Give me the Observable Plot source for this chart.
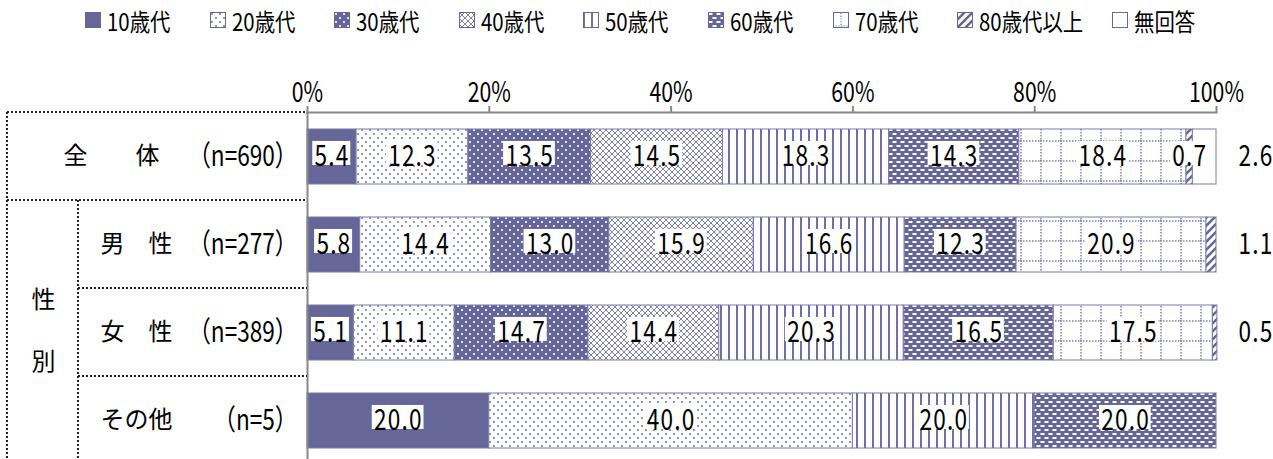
<!DOCTYPE html>
<html><head><meta charset="utf-8">
<script src="https://cdn.jsdelivr.net/npm/d3@7"></script>
<script src="https://cdn.jsdelivr.net/npm/@observablehq/plot@0.6"></script>
<style>
body{margin:0;background:#fff;font-family:"Noto Sans CJK JP",sans-serif;}
#legend{height:40px;display:flex;align-items:center;padding-left:85px;box-sizing:border-box;font-size:24px;color:#000;}
.item{display:flex;align-items:center;flex:none;white-space:nowrap;}
.item svg{margin-right:6px;flex:none;}
.item span{display:inline-block;transform:scaleX(0.85);transform-origin:left center;}
</style></head><body>
<svg width="0" height="0" style="position:absolute">
<defs>
<pattern id="p10" width="8" height="8" patternUnits="userSpaceOnUse"><rect width="8" height="8" fill="#666699"/></pattern>
<pattern id="p20" width="8" height="8" patternUnits="userSpaceOnUse"><rect width="8" height="8" fill="#fff"/><circle cx="2" cy="2" r="1.1" fill="#7b7bad"/><circle cx="6" cy="6" r="1.1" fill="#7b7bad"/></pattern>
<pattern id="p30" width="8" height="8" patternUnits="userSpaceOnUse"><rect width="8" height="8" fill="#666699"/><circle cx="2" cy="2" r="1.1" fill="#fff"/><circle cx="6" cy="6" r="1.1" fill="#fff"/></pattern>
<pattern id="p40" width="6" height="6" patternUnits="userSpaceOnUse"><rect width="6" height="6" fill="#fff"/><path d="M0,0L6,6M6,0L0,6" stroke="#8080b0" stroke-width="1"/></pattern>
<pattern id="p50" width="8" height="8" patternUnits="userSpaceOnUse"><rect width="8" height="8" fill="#fff"/><rect x="0" width="2" height="8" fill="#7070a3"/></pattern>
<pattern id="p60" width="8" height="8" patternUnits="userSpaceOnUse"><rect width="8" height="8" fill="#666699"/><rect x="0.5" y="1" width="4" height="2" fill="#fff"/><rect x="4.5" y="5" width="4" height="2" fill="#fff"/><rect x="0" y="5" width="0.5" height="2" fill="#fff"/></pattern>
<pattern id="p70" width="20" height="20" patternUnits="userSpaceOnUse"><rect width="20" height="20" fill="#fff"/><line x1="0" y1="1" x2="20" y2="1" stroke="#8080b0" stroke-width="1.5" stroke-dasharray="1.5 1.5"/><line x1="1" y1="0" x2="1" y2="20" stroke="#8080b0" stroke-width="1.5" stroke-dasharray="1.5 1.5"/></pattern>
<pattern id="p70s" width="16" height="16" patternUnits="userSpaceOnUse"><rect width="16" height="16" fill="#fff"/><line x1="8" y1="1" x2="8" y2="16" stroke="#8080b0" stroke-width="1.2" stroke-dasharray="1.2 1.5"/><line x1="0" y1="14" x2="16" y2="14" stroke="#8080b0" stroke-width="1.2" stroke-dasharray="1.2 1.5"/></pattern>
<pattern id="p80" width="8" height="8" patternUnits="userSpaceOnUse"><rect width="8" height="8" fill="#fff"/><path d="M-2,2L2,-2M0,8L8,0M6,10L10,6" stroke="#666699" stroke-width="2.5"/></pattern>
<pattern id="pNA" width="8" height="8" patternUnits="userSpaceOnUse"><rect width="8" height="8" fill="#fff"/></pattern>
</defs>
</svg>
<div id="legend"></div>
<div id="chart"></div>
<script>
// ---- data ----
const groups = ["全体", "男性", "女性", "その他"];
const groupNames = ["全　　体", "男　性", "女　性", "その他"];
const groupN = ["（n=690）", "（n=277）", "（n=389）", "（n=5）"];
const series = ["10歳代", "20歳代", "30歳代", "40歳代", "50歳代", "60歳代", "70歳代", "80歳代以上", "無回答"];
const patternIds = ["p10", "p20", "p30", "p40", "p50", "p60", "p70", "p80", "pNA"];
const legendPatternIds = ["p10", "p20", "p30", "p40", "p50", "p60", "p70s", "p80", "pNA"];
const valuesTotal  = [5.4, 12.3, 13.5, 14.5, 18.3, 14.3, 18.4, 0.7, 2.6];
const valuesMale   = [5.8, 14.4, 13.0, 15.9, 16.6, 12.3, 20.9, 1.1, 0];
const valuesFemale = [5.1, 11.1, 14.7, 14.4, 20.3, 16.5, 17.5, 0.5, 0];
const valuesOther  = [20.0, 40.0, 0, 0, 20.0, 20.0, 0, 0, 0];
const xTicks = [0, 20, 40, 60, 80, 100];

const allValues = [valuesTotal, valuesMale, valuesFemale, valuesOther];
const rows = [];
groups.forEach((g, gi) => {
  const vals = allValues[gi];
  let lastIdx = -1;
  vals.forEach((v, i) => { if (v > 0) lastIdx = i; });
  vals.forEach((v, i) => {
    if (v > 0) rows.push({group: g, series: series[i], value: v, label: v.toFixed(1), outside: i === lastIdx && v < 3});
  });
});
const labelRows = groups.map((g, i) => ({group: g, name: groupNames[i], n: groupN[i]}));

// ---- legend ----
const legend = d3.select("#legend");
series.forEach((s, i) => {
  const item = legend.append("div").attr("class", "item").style("width", s === "80歳代以上" ? "155px" : "124.6px");
  const sw = item.append("svg").attr("width", 16).attr("height", 16);
  sw.append("rect").attr("x", 0.5).attr("y", 0.5).attr("width", 15).attr("height", 15)
    .attr("fill", `url(#${legendPatternIds[i]})`).attr("stroke", "#666699").attr("stroke-width", 1);
  item.append("span").text(s);
});

// ---- chart ----
const font = "'Noto Sans CJK JP',sans-serif";
const numSize = 29;
const chart = Plot.plot({
  width: 1273, height: 419,
  marginLeft: 307, marginRight: 57, marginTop: 72, marginBottom: 0,
  style: {fontFamily: font, background: "white", overflow: "visible"},
  x: {domain: [0, 100], axis: null, label: null},
  y: {domain: groups, range: [72, 424], padding: 0, axis: null},
  color: {domain: series, range: patternIds.map(p => `url(#${p})`)},
  marks: [
    Plot.barX(rows, Plot.stackX({x: "value", y: "group", fill: "series", insetTop: 17, insetBottom: 16, stroke: "#7a7aab", strokeWidth: 1})),
    Plot.text(rows, Plot.stackX({x: "value", y: "group", z: "series", text: d => d.outside ? "" : d.label, fontSize: numSize, fill: "black"})),
    Plot.text(rows.filter(d => d.outside), {y: "group", text: "label", frameAnchor: "right", textAnchor: "start", dx: 22, fontSize: numSize, fill: "black"}),
    Plot.axisX({anchor: "top", ticks: xTicks, tickFormat: d => d + "%", label: null, tickSize: 7, tickPadding: 4, stroke: "#888", strokeWidth: 2, fill: "black", fontSize: 28}),
    Plot.frame({anchor: "top", stroke: "#888", strokeWidth: 2}),
    Plot.ruleX([0], {stroke: "#888", strokeWidth: 2}),
    Plot.text(labelRows.slice(0, 1), {y: "group", text: "name", frameAnchor: "left", textAnchor: "start", dx: -244, fontSize: 24, fill: "black"}),
    Plot.text(labelRows.slice(1), {y: "group", text: "name", frameAnchor: "left", textAnchor: "start", dx: -207, fontSize: 24, fill: "black"}),
    Plot.text(labelRows, {y: "group", text: "n", frameAnchor: "left", textAnchor: "end", dx: -10, fontSize: numSize, fill: "black"}),
    Plot.text(["女性"], {y: d => d, text: () => "性\n別", lineHeight: 2.55, frameAnchor: "left", textAnchor: "middle", dx: -264, dy: -13, fontSize: 24, fill: "black"})
  ]
});
document.getElementById("chart").appendChild(chart);

const svg = d3.select(chart);
// horizontally condense numeric text about its anchor point
function condense(g, s, spacing) {
  d3.select(g).selectAll("text").each(function() {
    if (spacing) this.style.letterSpacing = spacing;
    const ax = +this.getAttribute("x") || 0;
    const t = this.getAttribute("transform") || "";
    this.setAttribute("transform", `${t} translate(${ax},0) scale(${s},1) translate(${-ax},0)`);
  });
}
const textGroups = svg.selectAll('g[aria-label="text"]').nodes();
const inGroup = textGroups[0];
condense(inGroup, 0.78, "1.5px");
condense(textGroups[1], 0.78, "1.5px");
condense(textGroups[4], 0.78);
svg.selectAll('g[aria-label="x-axis tick label"]').each(function() { condense(this, 0.76); });

// white boxes behind in-bar labels
d3.select(inGroup).selectAll("text").each(function() {
  const b = this.getBBox();
  if (!b.width) return;
  const cy = b.y + b.height / 2;
  const r = document.createElementNS("http://www.w3.org/2000/svg", "rect");
  r.setAttribute("x", b.x - 3);
  r.setAttribute("y", cy - 12);
  r.setAttribute("width", b.width + 4);
  r.setAttribute("height", 24);
  r.setAttribute("fill", "white");
  const t = this.getAttribute("transform");
  if (t) r.setAttribute("transform", t);
  this.parentNode.insertBefore(r, this);
});

// dotted table lines on the left, positioned from the y scale
const ys = chart.scale("y");
const top0 = ys.apply(groups[0]);
const bottom = 419;
const left0 = 7, left1 = 78, right = 307;
const tbl = svg.append("g").attr("stroke", "#222").attr("stroke-width", 2).attr("stroke-dasharray", "2 2").attr("fill", "none");
const hline = (x1, x2, y) => tbl.append("line").attr("x1", x1).attr("x2", x2).attr("y1", y).attr("y2", y);
const vline = (x, y1, y2) => tbl.append("line").attr("x1", x).attr("x2", x).attr("y1", y1).attr("y2", y2);
hline(left0, right, top0);
hline(left0, right, ys.apply(groups[1]));
hline(left1, right, ys.apply(groups[2]));
hline(left1, right, ys.apply(groups[3]));
vline(left0, top0, bottom);
vline(left1, ys.apply(groups[1]), bottom);
</script>
</body></html>
